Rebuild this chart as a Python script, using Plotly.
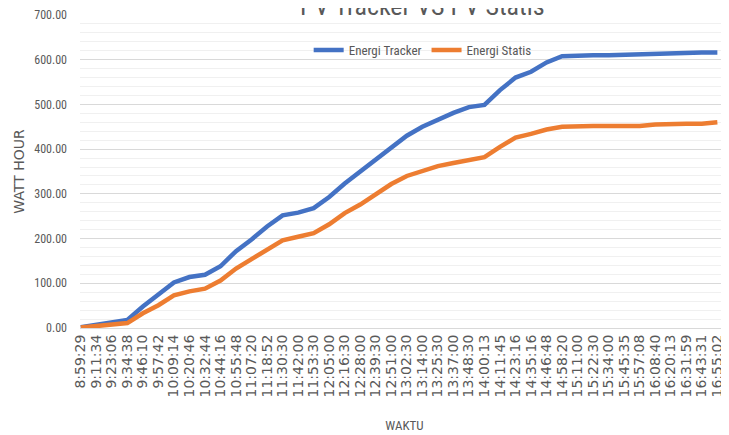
import plotly.graph_objects as go

# time labels on the category axis
waktu = ["8:59:29", "9:11:34", "9:23:06", "9:34:38", "9:46:10", "9:57:42",
         "10:09:14", "10:20:46", "10:32:44", "10:44:16", "10:55:48", "11:07:20",
         "11:18:52", "11:30:30", "11:42:00", "11:53:30", "12:05:00", "12:16:30",
         "12:28:00", "12:39:30", "12:51:00", "13:02:30", "13:14:00", "13:25:30",
         "13:37:00", "13:48:30", "14:00:13", "14:11:45", "14:23:16", "14:35:16",
         "14:46:48", "14:58:20", "15:11:00", "15:22:30", "15:34:00", "15:45:35",
         "15:57:08", "16:08:40", "16:20:13", "16:31:59", "16:43:31", "16:55:02"]

energi_tracker = [2, 8, 12, 18, 48, 74, 102, 114, 119, 138, 172, 198,
                  227, 252, 258, 268, 293, 323, 350, 376, 405, 430, 450, 466,
                  481, 494, 499, 532, 560, 573, 594, 608, 610, 610, 610, 611,
                  613, 613, 616, 616, 616, 616]

energi_statis = [1, 4, 7, 11, 33, 51, 73, 82, 88, 106, 133, 154,
                 177, 196, 204, 212, 232, 257, 276, 300, 322, 340, 351, 362,
                 369, 375, 382, 405, 426, 434, 444, 450, 452, 452, 452, 452,
                 452, 455, 457, 457, 457, 460]

FONT = "Roboto Condensed, Roboto, sans-serif"
GREY = "#595959"

fig = go.Figure()
fig.add_trace(go.Scatter(x=waktu, y=energi_tracker, mode="lines", name="Energi Tracker",
                         line=dict(color="#4472C4", width=4.5)))
fig.add_trace(go.Scatter(x=waktu, y=energi_statis, mode="lines", name="Energi Statis",
                         line=dict(color="#ED7D31", width=4.5)))

# title is cut by the top edge in the reference, only its lower part shows
fig.add_annotation(text="PV Tracker VS PV Statis", xref="paper", yref="paper",
                   x=0.527, y=1.028, xanchor="center", yanchor="middle",
                   showarrow=False, font=dict(family=FONT, size=26, color=GREY))

# page adds an 8px body margin, so the figure is 721x427
fig.update_layout(
    width=721, height=427,
    margin=dict(l=72, r=0, t=7, b=107),
    paper_bgcolor="white", plot_bgcolor="white",
    font=dict(family=FONT, color=GREY, size=12),
    legend=dict(orientation="h", x=0.528, xanchor="center", y=0.888, yanchor="middle",
                font=dict(family=FONT, size=13, color=GREY),
                bgcolor="rgba(0,0,0,0)", itemwidth=30, tracegroupgap=0),
    showlegend=True,
)

fig.update_xaxes(
    type="category", tickmode="array", tickvals=waktu, ticktext=waktu,
    range=[-0.05, 41.75], tickangle=-90, showgrid=False, automargin=False,
    ticklabeloverflow="allow",
    showline=True, linecolor="#d9d9d9", linewidth=1,
    tickfont=dict(family="DejaVu Sans", size=14, color=GREY),
    title=dict(text="WAKTU", standoff=24, font=dict(family=FONT, size=13, color=GREY)),
)

fig.update_yaxes(
    range=[0, 700], dtick=100, tickformat=".2f", automargin=False,
    showgrid=True, gridcolor="#d9d9d9", gridwidth=1,
    minor=dict(dtick=20, showgrid=True, gridcolor="#f0f0f0", gridwidth=1),
    zeroline=False, showline=False, ticklabelstandoff=12,
    tickfont=dict(family=FONT, size=12, color=GREY),
    title=dict(text="WATT HOUR", standoff=6, font=dict(family="DejaVu Sans", size=14, color=GREY)),
)

fig.write_html("out.html")
